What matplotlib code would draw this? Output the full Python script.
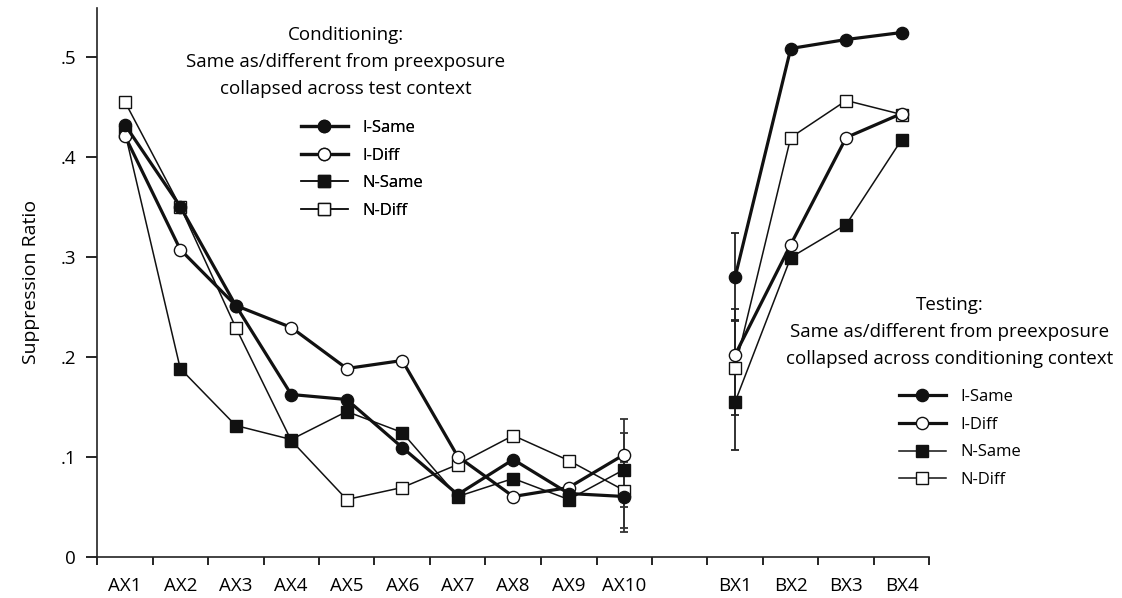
import numpy as np
import matplotlib.pyplot as plt
from matplotlib.lines import Line2D
from matplotlib.ticker import FuncFormatter

plt.rcParams['font.family'] = ['Open Sans', 'DejaVu Sans']

# Datos
ax_trials = ['AX1', 'AX2', 'AX3', 'AX4', 'AX5', 'AX6', 'AX7', 'AX8', 'AX9', 'AX10']
bx_trials = ['BX1', 'BX2', 'BX3', 'BX4']

i_same_ax = [.432, .350, .251, .162, .157, .109, .062, .097, .063, .060]
i_diff_ax = [.421, .307, .251, .229, .188, .196, .100, .060, .069, .102]
n_same_ax = [.425, .188, .131, .117, .145, .124, .060, .078, .057, .087]
n_diff_ax = [.455, .350, .229, .116, .057, .069, .092, .121, .096, .066]

i_same_bx = [.280, .508, .517, .524]
i_diff_bx = [.202, .312, .419, .443]
n_same_bx = [.155, .299, .332, .417]
n_diff_bx = [.189, .419, .456, .442]

# error (SEM) en AX10 y BX1: I-Same, I-Diff, N-Same, N-Diff
err_ax10 = [.035, .036, .037, .037]
err_bx1 = [.044, .046, .048, .047]

series_names = ['I-Same', 'I-Diff', 'N-Same', 'N-Diff']

# posiciones en el eje x: un hueco entre AX10 y BX1
x_ax = np.arange(len(ax_trials)) + 0.5
x_bx = np.arange(len(bx_trials)) + len(ax_trials) + 1.5

dark = '#111111'
styles = {
    'I-Same': dict(marker='o', mfc=dark, lw=2.3, ms=8.8),
    'I-Diff': dict(marker='o', mfc='white', lw=2.3, ms=8.8),
    'N-Same': dict(marker='s', mfc=dark, lw=1.1, ms=8.2),
    'N-Diff': dict(marker='s', mfc='white', lw=1.1, ms=8.2),
}

fig = plt.figure(figsize=(11.22, 5.98), dpi=100)
ax = fig.add_axes([97 / 1122, 1 - 556.5 / 598, 832.5 / 1122, 548.5 / 598])

ax_data = [i_same_ax, i_diff_ax, n_same_ax, n_diff_ax]
bx_data = [i_same_bx, i_diff_bx, n_same_bx, n_diff_bx]

# barras de error (detrás de las líneas)
for k in range(4):
    ax.errorbar(x_ax[-1], ax_data[k][-1], yerr=err_ax10[k], fmt='none',
                ecolor='#333333', elinewidth=1.3, capsize=3, capthick=1.3, zorder=1)
    ax.errorbar(x_bx[0], bx_data[k][0], yerr=err_bx1[k], fmt='none',
                ecolor='#222222', elinewidth=1.3, capsize=3, capthick=1.3, zorder=1)

zo = {'N-Diff': 2, 'N-Same': 3, 'I-Diff': 4, 'I-Same': 5}
for name, ya, yb in zip(series_names, ax_data, bx_data):
    st = styles[name]
    for xx, yy in [(x_ax, ya), (x_bx, yb)]:
        ax.plot(xx, yy, color=dark, lw=st['lw'], marker=st['marker'],
                ms=st['ms'], mfc=st['mfc'], mec=dark, mew=1.0, zorder=zo[name])

ax.set_xlim(0, 15)
ax.set_ylim(0, 0.5485)
ax.set_xticks(np.arange(0, 16), minor=False)
ax.set_xticklabels([])
ax.set_xticks(list(x_ax) + list(x_bx), minor=True)
ax.set_xticklabels(ax_trials + bx_trials, minor=True, fontsize=13.5)
ax.tick_params(axis='x', which='minor', length=0, pad=15)
ax.tick_params(axis='x', which='major', length=6, width=1.2, direction='out')
ax.set_yticks([0, .1, .2, .3, .4, .5])
ax.yaxis.set_major_formatter(FuncFormatter(lambda v, p: '0' if v == 0 else f'{v:.1f}'.lstrip('0')))
ax.tick_params(axis='y', length=8, width=1.2, labelsize=13.5, pad=7)
ax.set_ylabel('Suppression Ratio', fontsize=14, labelpad=15)

for s in ['top', 'right']:
    ax.spines[s].set_visible(False)
for s in ['left', 'bottom']:
    ax.spines[s].set_linewidth(1.2)
    ax.spines[s].set_color('#222222')

# textos de los paneles
fig.text(346 / 1122, 1 - 62 / 598,
         'Conditioning:\nSame as/different from preexposure\ncollapsed across test context',
         ha='center', va='center', fontsize=13.5, linespacing=1.62)
fig.text(950 / 1122, 1 - 332 / 598,
         'Testing:\nSame as/different from preexposure\ncollapsed across conditioning context',
         ha='center', va='center', fontsize=13.5, linespacing=1.62)

handles = []
for name in series_names:
    st = styles[name]
    handles.append(Line2D([], [], color=dark, lw=st['lw'], marker=st['marker'],
                          ms=st['ms'], mfc=st['mfc'], mec=dark, mew=1.0))

leg1 = fig.legend(handles, series_names, loc='upper left',
                  bbox_to_anchor=(301 / 1122, 1 - 120 / 598), frameon=False,
                  fontsize=12, handlelength=2.8, handletextpad=0.9,
                  labelspacing=0.7, borderpad=0, borderaxespad=0)
leg2 = fig.legend(handles, series_names, loc='upper left',
                  bbox_to_anchor=(899 / 1122, 1 - 389 / 598), frameon=False,
                  fontsize=12, handlelength=2.8, handletextpad=0.9,
                  labelspacing=0.7, borderpad=0, borderaxespad=0)
fig.add_artist(leg1)

fig.savefig('out.png', dpi=100)
